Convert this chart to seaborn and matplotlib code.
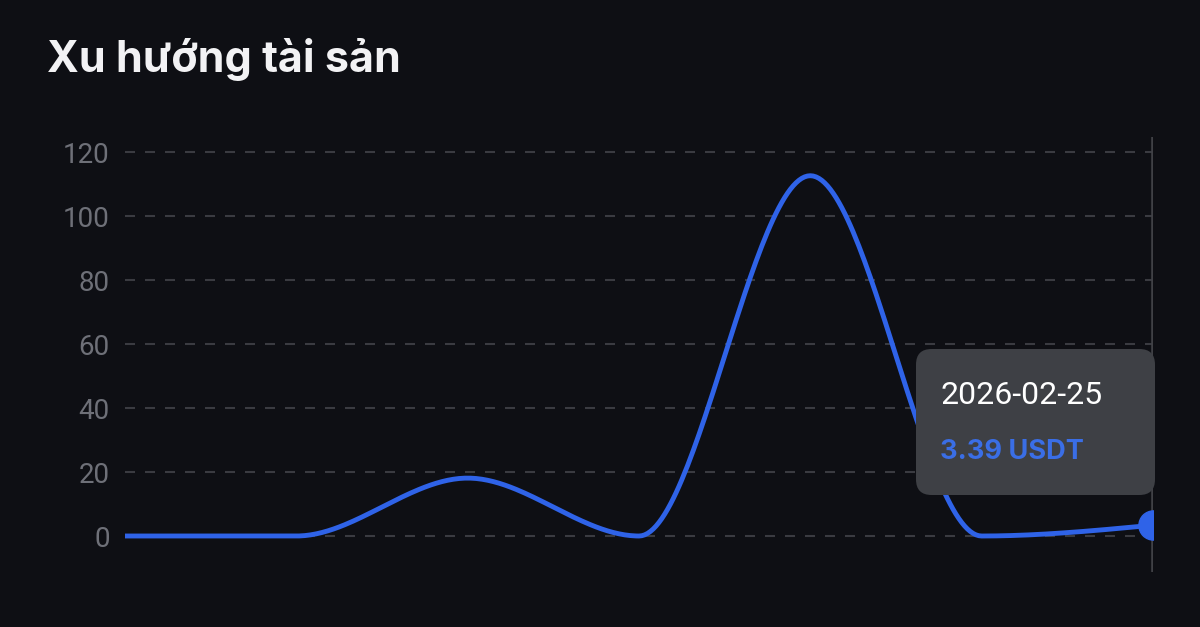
import numpy as np
import pandas as pd
import matplotlib
matplotlib.use("Agg")
import matplotlib.pyplot as plt
from matplotlib.patches import FancyBboxPatch
import seaborn as sns

# Daily asset value (USDT)
dates = ["2026-02-19", "2026-02-20", "2026-02-21", "2026-02-22",
         "2026-02-23", "2026-02-24", "2026-02-25"]
values = [0.0, 0.0, 18.1, 0.0, 112.6, 0.0, 3.39]
y_ticks = [0, 20, 40, 60, 80, 100, 120]

title_text = "Xu hướng tài sản"
tooltip_date = "2026-02-25"
tooltip_value = "3.39 USDT"

BG = "#0e0f14"
BLUE = "#2f63e8"
GRID = "#3a3b41"
TICK = "#6e7078"
TIP_BG = "#3e4045"


def monotone_x(x, y, n=60):
    """Monotone cubic interpolation (same slopes as d3.curveMonotoneX)."""
    x = np.asarray(x, float)
    y = np.asarray(y, float)
    h = np.diff(x)
    s = np.diff(y) / h
    m = np.zeros_like(y)
    for i in range(1, len(y) - 1):
        s0, s1 = s[i - 1], s[i]
        p = (s0 * h[i] + s1 * h[i - 1]) / (h[i - 1] + h[i])
        m[i] = (np.sign(s0) + np.sign(s1)) * min(abs(s0), abs(s1), 0.5 * abs(p))
    m[0] = (3 * s[0] - m[1]) / 2
    m[-1] = (3 * s[-1] - m[-2]) / 2
    xs, ys = [], []
    for i in range(len(h)):
        t = np.linspace(0, 1, n, endpoint=(i == len(h) - 1))
        h00 = 2 * t**3 - 3 * t**2 + 1
        h10 = t**3 - 2 * t**2 + t
        h01 = -2 * t**3 + 3 * t**2
        h11 = t**3 - t**2
        xs.append(x[i] + t * h[i])
        ys.append(h00 * y[i] + h10 * h[i] * m[i] + h01 * y[i + 1] + h11 * h[i] * m[i + 1])
    return np.concatenate(xs), np.concatenate(ys)


d = pd.to_datetime(dates)
day = (d - d[0]).days.values.astype(float)
sx, sy = monotone_x(day, values)
curve = pd.DataFrame({"date": d[0] + pd.to_timedelta(sx, unit="D"), "value": sy})

sns.set_theme(style="dark")
plt.rcParams["font.family"] = ["Roboto", "DejaVu Sans"]

fig = plt.figure(figsize=(12, 6.27), dpi=100, facecolor=BG)
ax = fig.add_axes([125 / 1200, 1 - 572 / 627, (1153 - 125) / 1200, (572 - 137) / 627])
ax.set_facecolor(BG)

# dashed horizontal grid
for v in y_ticks:
    ax.axhline(v, color=GRID, lw=1.5, ls=(0, (4.8, 4.8)), zorder=1)

# crosshair at the selected date
ax.axvline(d[-1], color="#404146", lw=2.6, zorder=2)

sns.lineplot(data=curve, x="date", y="value", ax=ax, color=BLUE, lw=3.5,
             zorder=3, legend=False)
ax.plot([d[-1]], [values[-1]], "o", color=BLUE, ms=21, zorder=4, clip_on=True)

ax.set_xlim(d[0], d[-1])
ax.set_ylim(-11.25, 124.7)
ax.set_yticks(y_ticks)
ax.set_yticklabels([str(v) for v in y_ticks])
ax.tick_params(axis="y", colors=TICK, labelsize=20, length=0, pad=11)
ax.set_xticks([])
ax.set_xlabel("")
ax.set_ylabel("")
ax.grid(False)
for sp in ax.spines.values():
    sp.set_visible(False)

# tooltip
tip = FancyBboxPatch((916 / 1200, 1 - 495 / 627), (1155 - 916) / 1200, (495 - 349) / 627,
                     boxstyle="round,pad=0,rounding_size=0.013",
                     transform=fig.transFigure, facecolor=TIP_BG, edgecolor="none",
                     zorder=10, mutation_aspect=1200 / 627)
fig.patches.append(tip)
fig.text(940 / 1200, 1 - 395 / 627, tooltip_date, color="white", fontsize=23,
         family=["Roboto", "DejaVu Sans"], va="center", ha="left", zorder=11)
fig.text(940 / 1200, 1 - 452 / 627, tooltip_value, color="#3a6ee6", fontsize=19.6,
         family=["Inter", "DejaVu Sans"], weight="bold", va="center", ha="left", zorder=11)

fig.text(47 / 1200, 1 - 72 / 627, title_text, color="#f2f2f4", fontsize=31,
         family=["Inter", "DejaVu Sans"], weight="bold", va="baseline", ha="left")

fig.savefig("out.png", dpi=100, facecolor=BG)
